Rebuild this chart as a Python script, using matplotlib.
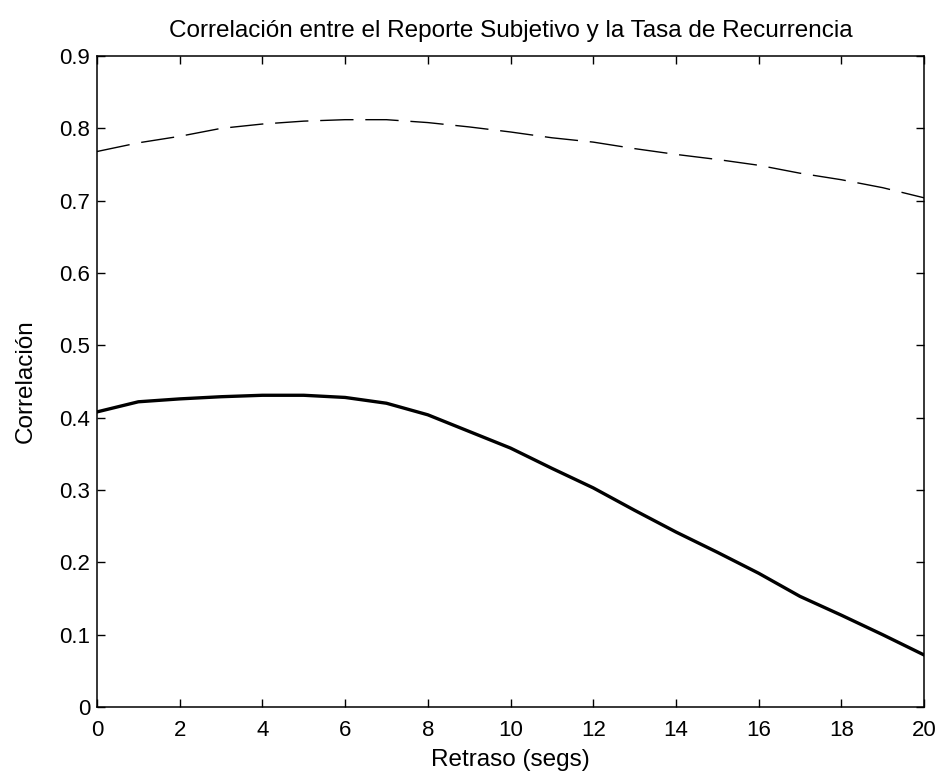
import matplotlib as mpl
import matplotlib.pyplot as plt
import numpy as np

# ========= Data =========
retraso = np.arange(0, 21)
corr_reporte = [0.408, 0.422, 0.426, 0.429, 0.431, 0.431, 0.428, 0.420, 0.404, 0.381,
                0.358, 0.330, 0.303, 0.272, 0.242, 0.214, 0.185, 0.153, 0.127, 0.100, 0.072]
corr_superior = [0.768, 0.780, 0.789, 0.800, 0.806, 0.810, 0.812, 0.812, 0.808, 0.802,
                 0.795, 0.787, 0.781, 0.772, 0.764, 0.757, 0.749, 0.738, 0.729, 0.718, 0.704]

X_TICKS = np.arange(0, 21, 2)
Y_TICKS = [0, 0.1, 0.2, 0.3, 0.4, 0.5, 0.6, 0.7, 0.8, 0.9]
Y_TICK_LABELS = ["0", "0.1", "0.2", "0.3", "0.4", "0.5", "0.6", "0.7", "0.8", "0.9"]

TITLE = "Correlación entre el Reporte Subjetivo y la Tasa de Recurrencia"
XLABEL = "Retraso (segs)"
YLABEL = "Correlación"

mpl.rcParams["font.family"] = ["Liberation Sans", "DejaVu Sans"]
mpl.rcParams["lines.scale_dashes"] = False

fig = plt.figure(figsize=(9.38, 7.75), dpi=100)
ax = fig.add_axes([0.1034, 0.0877, 0.8817, 0.840])

ax.plot(retraso, corr_superior, color="black", linewidth=1.0, dashes=(24, 8.5))
ax.plot(retraso, corr_reporte, color="black", linewidth=2.4, solid_joinstyle="round")

ax.set_xlim(0, 20)
ax.set_ylim(0, 0.9)
ax.set_xticks(X_TICKS)
ax.set_yticks(Y_TICKS)
ax.set_yticklabels(Y_TICK_LABELS)

ax.tick_params(direction="in", length=6, width=1.0, top=True, right=True, labelsize=16)
ax.tick_params(axis="y", pad=5)
ax.tick_params(axis="x", pad=9)
for sp in ax.spines.values():
    sp.set_linewidth(1.1)

ax.set_title(TITLE, fontsize=17.5, pad=13.5)
ax.set_xlabel(XLABEL, fontsize=17.5, labelpad=6)
ax.set_ylabel(YLABEL, fontsize=17.5, labelpad=16)

fig.savefig("out.png", dpi=100)
